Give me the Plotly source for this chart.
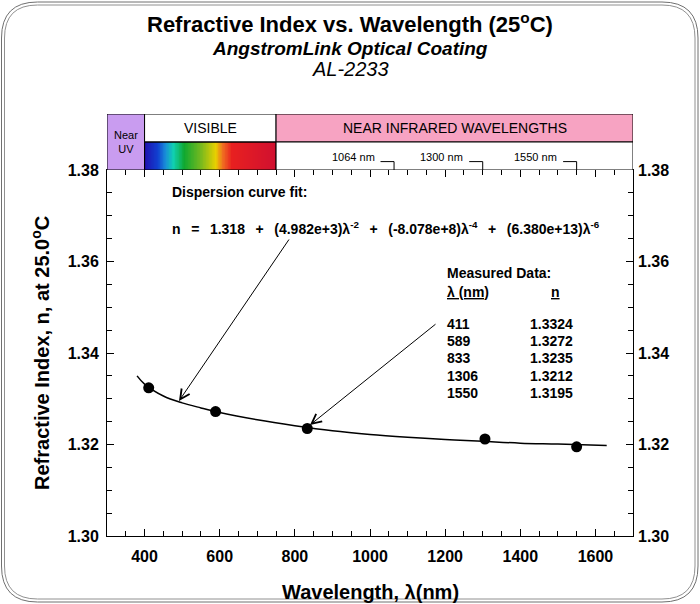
import plotly.graph_objects as go

# ---------------- data ----------------
measured_wavelength_nm = [411, 589, 833, 1306, 1550]
measured_index = [1.3324, 1.3272, 1.3235, 1.3212, 1.3195]

fit_wavelength_nm = [380, 400, 450, 500, 550, 600, 700, 800, 900, 1000,
                     1100, 1200, 1300, 1400, 1500, 1630]
fit_index = [1.3350, 1.3332, 1.3306, 1.3291, 1.3280, 1.3270, 1.3254, 1.3241,
             1.3230, 1.3222, 1.3216, 1.3211, 1.3207, 1.3203, 1.3201, 1.3198]

fit_constant = "1.318"
fit_coefficients = ["(4.982e+3)", "(-8.078e+8)", "(6.380e+13)"]
fit_powers = ["-2", "-4", "-6"]

x_tick_values = [400, 600, 800, 1000, 1200, 1400, 1600]
y_tick_values = [1.30, 1.32, 1.34, 1.36, 1.38]
y_tick_labels = ["1.30", "1.32", "1.34", "1.36", "1.38"]

band_labels = ["Near<br>UV", "VISIBLE", "NEAR INFRARED WAVELENGTHS"]
band_edges_nm = [300, 400, 750, 1700]
marked_wavelengths_nm = [1064, 1300, 1550]
marked_labels = ["1064 nm", "1300 nm", "1550 nm"]

# ---------------- styling / geometry ----------------
W, H = 700, 604
ML, MR, MT, MB = 107, 67, 114, 68
PW = W - ML - MR
PH = H - MT - MB
MAIN_TOP = 366 / PH          # fraction of plot height used by the main axes
X_RANGE = [300, 1700]
Y_RANGE = [1.30, 1.38]

FONT = "Liberation Sans, Arial, sans-serif"

spectrum_colorscale = [
    [0.00, "#2010b0"], [0.10, "#1040d0"], [0.16, "#1890d8"], [0.22, "#10d0b0"],
    [0.30, "#10a830"], [0.42, "#70b820"], [0.54, "#e8d000"], [0.59, "#f07020"],
    [0.66, "#e82020"], [1.00, "#d01030"],
]
spectrum_edges = list(range(band_edges_nm[1], band_edges_nm[2] + 1, 2))
spectrum_centers = [(a + b) / 2 for a, b in zip(spectrum_edges[:-1], spectrum_edges[1:])]


def px_x(px):
    """pixel column -> paper x"""
    return (px - ML) / PW


def px_y(py):
    """pixel row -> paper y"""
    return (H - MB - py) / PH


def dx(px):
    """pixel column -> data x"""
    return X_RANGE[0] + (px - ML) / PW * (X_RANGE[1] - X_RANGE[0])


def dy(py):
    """pixel row -> data y (main axis)"""
    return Y_RANGE[0] + (H - MB - py) / (MAIN_TOP * PH) * (Y_RANGE[1] - Y_RANGE[0])


fig = go.Figure()

# spectrum gradient in the band strip
fig.add_trace(go.Heatmap(
    x=spectrum_edges, y=[0, 1], z=[spectrum_centers],
    zmin=band_edges_nm[1], zmax=band_edges_nm[2],
    colorscale=spectrum_colorscale, showscale=False, hoverinfo="skip",
    xaxis="x", yaxis="y2",
))

# fitted dispersion curve
fig.add_trace(go.Scatter(
    x=fit_wavelength_nm, y=fit_index, mode="lines",
    line=dict(color="black", width=1.5, shape="spline"),
    hoverinfo="skip", showlegend=False,
))

# measured points
fig.add_trace(go.Scatter(
    x=measured_wavelength_nm, y=measured_index, mode="markers",
    marker=dict(color="black", size=11), showlegend=False,
))

# invisible trace for the right-hand tick labels
fig.add_trace(go.Scatter(x=[X_RANGE[0]], y=[Y_RANGE[0]], yaxis="y3",
                         mode="markers", marker=dict(opacity=0),
                         hoverinfo="skip", showlegend=False))

shapes = []
# band boxes
shapes.append(dict(type="rect", xref="x", yref="y2", x0=band_edges_nm[0], x1=band_edges_nm[1],
                   y0=0, y1=2, fillcolor="#c99cf0", line=dict(color="black", width=1)))
shapes.append(dict(type="rect", xref="x", yref="y2", x0=band_edges_nm[1], x1=band_edges_nm[2],
                   y0=1, y1=2, fillcolor="white", line=dict(color="black", width=1)))
shapes.append(dict(type="rect", xref="x", yref="y2", x0=band_edges_nm[1], x1=band_edges_nm[2],
                   y0=0, y1=1, fillcolor="rgba(0,0,0,0)", line=dict(color="black", width=1)))
shapes.append(dict(type="rect", xref="x", yref="y2", x0=band_edges_nm[2], x1=band_edges_nm[3],
                   y0=1, y1=2, fillcolor="#f7a3c2", line=dict(color="black", width=1)))
shapes.append(dict(type="rect", xref="x", yref="y2", x0=band_edges_nm[2], x1=band_edges_nm[3],
                   y0=0, y1=1, fillcolor="white", line=dict(color="black", width=1)))

annotations = []
# band labels
annotations.append(dict(x=(band_edges_nm[0] + band_edges_nm[1]) / 2, y=1.0, xref="x", yref="y2",
                        text=band_labels[0], showarrow=False, xanchor="center", yanchor="middle",
                        font=dict(family=FONT, size=11, color="black")))
annotations.append(dict(x=(band_edges_nm[1] + band_edges_nm[2]) / 2, y=1.5, xref="x", yref="y2",
                        text=band_labels[1], showarrow=False, xanchor="center", yanchor="middle",
                        font=dict(family=FONT, size=14, color="black")))
annotations.append(dict(x=(band_edges_nm[2] + band_edges_nm[3]) / 2, y=1.5, xref="x", yref="y2",
                        text=band_labels[2], showarrow=False, xanchor="center", yanchor="middle",
                        font=dict(family=FONT, size=14, color="black")))

# wavelength markers in the NIR strip
for wl, lab in zip(marked_wavelengths_nm, marked_labels):
    shapes.append(dict(type="path", xref="x", yref="y2",
                       path=f"M {wl - 36},0.3 L {wl},0.3 L {wl},0",
                       line=dict(color="black", width=1)))
    annotations.append(dict(x=wl - 46, y=0.45, xref="x", yref="y2", text=lab,
                            showarrow=False, xanchor="right", yanchor="middle",
                            font=dict(family=FONT, size=11, color="black")))


# frame with rounded corners (double line)
def rounded(l, t, r, b, rad):
    L, R, T, B = px_x(l), px_x(r), px_y(t), px_y(b)
    rx, ry = rad / PW, rad / PH
    return (f"M {L + rx},{T} L {R - rx},{T} Q {R},{T} {R},{T - ry} "
            f"L {R},{B + ry} Q {R},{B} {R - rx},{B} L {L + rx},{B} "
            f"Q {L},{B} {L},{B + ry} L {L},{T - ry} Q {L},{T} {L + rx},{T} Z")


shapes.append(dict(type="path", xref="paper", yref="paper", path=rounded(1.5, 2, 698, 602, 36),
                   line=dict(color="#707070", width=1)))
shapes.append(dict(type="path", xref="paper", yref="paper", path=rounded(4.5, 5, 695, 599, 33),
                   line=dict(color="#909090", width=1)))

# titles
annotations.append(dict(x=px_x(W / 2), xref="paper", y=px_y(23), yref="paper",
                        xanchor="center", yanchor="middle",
                        text="<b>Refractive Index vs. Wavelength (25<sup>o</sup>C)</b>",
                        showarrow=False, font=dict(family=FONT, size=22, color="black")))
annotations.append(dict(x=px_x(W / 2), xref="paper", y=px_y(48), yref="paper",
                        xanchor="center", yanchor="middle",
                        text="<b><i>AngstromLink Optical Coating</i></b>", showarrow=False,
                        font=dict(family=FONT, size=19, color="black")))
annotations.append(dict(x=px_x(W / 2), xref="paper", y=px_y(69), yref="paper",
                        xanchor="center", yanchor="middle",
                        text="<i>AL-2233</i>", showarrow=False,
                        font=dict(family=FONT, size=20, color="black")))

# axis titles
annotations.append(dict(x=0.5, xref="paper", y=px_y(592), yref="paper",
                        xanchor="center", yanchor="middle",
                        text="<b>Wavelength, λ(nm)</b>", showarrow=False,
                        font=dict(family=FONT, size=20, color="black")))
annotations.append(dict(x=px_x(40), xref="paper", y=px_y(353), yref="paper",
                        xanchor="center", yanchor="middle",
                        text="<b>Refractive Index, n, at 25.0<sup>o</sup>C</b>", showarrow=False,
                        textangle=-90, font=dict(family=FONT, size=20, color="black")))

# fit description
sp = "\u00a0\u00a0\u2009"
formula = f"n{sp}={sp}{fit_constant}"
for c, p in zip(fit_coefficients, fit_powers):
    formula += f"{sp}+{sp}{c}λ<sup>{p}</sup>"
annotations.append(dict(x=dx(170), y=dy(192), xref="x", yref="y", xanchor="left", yanchor="middle",
                        text="<b>Dispersion curve fit:</b>", showarrow=False,
                        font=dict(family=FONT, size=14, color="black")))
annotations.append(dict(x=dx(170), y=dy(228), xref="x", yref="y", xanchor="left", yanchor="middle",
                        text=f"<b>{formula}</b>", showarrow=False,
                        font=dict(family=FONT, size=14, color="black")))

# measured data table
annotations.append(dict(x=dx(445), y=dy(273), xref="x", yref="y", xanchor="left", yanchor="middle",
                        text="<b>Measured Data:</b>", showarrow=False,
                        font=dict(family=FONT, size=14, color="black")))
annotations.append(dict(x=dx(445), y=dy(292), xref="x", yref="y", xanchor="left", yanchor="middle",
                        text="<b><u>λ (nm)</u></b>", showarrow=False,
                        font=dict(family=FONT, size=14, color="black")))
annotations.append(dict(x=dx(549), y=dy(292), xref="x", yref="y", xanchor="left", yanchor="middle",
                        text="<b><u>n</u></b>", showarrow=False,
                        font=dict(family=FONT, size=14, color="black")))
for i, (wl, n) in enumerate(zip(measured_wavelength_nm, measured_index)):
    row_py = 324 + 17.2 * i
    annotations.append(dict(x=dx(445), y=dy(row_py), xref="x", yref="y", xanchor="left",
                            yanchor="middle", text=f"<b>{wl}</b>", showarrow=False,
                            font=dict(family=FONT, size=14, color="black")))
    annotations.append(dict(x=dx(528), y=dy(row_py), xref="x", yref="y", xanchor="left",
                            yanchor="middle", text=f"<b>{n:.4f}</b>", showarrow=False,
                            font=dict(family=FONT, size=14, color="black")))

# arrows
for (hx, hy, tx, ty) in [(179, 401, 290, 238), (310, 425, 437, 323)]:
    annotations.append(dict(x=dx(hx), y=dy(hy), ax=dx(tx), ay=dy(ty),
                            xref="x", yref="y", axref="x", ayref="y",
                            text="", showarrow=True, arrowhead=5, arrowsize=1.9,
                            arrowwidth=1, arrowcolor="black"))

axis_font = dict(family=FONT, size=16, color="black", weight="bold")

fig.update_layout(
    width=W, height=H,
    margin=dict(l=ML, r=MR, t=MT, b=MB, autoexpand=False),
    paper_bgcolor="white", plot_bgcolor="white",
    showlegend=False,
    xaxis=dict(range=X_RANGE, tickvals=x_tick_values, ticks="inside", ticklen=7,
               tickcolor="black", showline=True, linecolor="black", linewidth=1,
               mirror="ticks", showgrid=False, zeroline=False, tickfont=axis_font,
               ticklabelstandoff=6,
               minor=dict(dtick=50, ticks="inside", ticklen=5, tickcolor="black"),
               anchor="y"),
    yaxis=dict(range=Y_RANGE, tickvals=y_tick_values, ticktext=y_tick_labels,
               ticks="inside", ticklen=7, tickcolor="black", showline=True,
               linecolor="black", linewidth=1, mirror="ticks", showgrid=False,
               zeroline=False, tickfont=axis_font, ticklabelstandoff=4,
               minor=dict(dtick=0.005, ticks="inside", ticklen=5, tickcolor="black"),
               domain=[0, MAIN_TOP], anchor="x"),
    yaxis3=dict(range=Y_RANGE, tickvals=y_tick_values, ticktext=y_tick_labels,
                overlaying="y", side="right", ticks="", showline=False,
                showgrid=False, zeroline=False, tickfont=axis_font,
                ticklabelstandoff=4, anchor="x"),
    yaxis2=dict(range=[0, 2], domain=[MAIN_TOP, 1], visible=False, anchor="x",
                fixedrange=True),
    shapes=shapes,
    annotations=annotations,
)

fig.write_html("out.html",
               config={"displayModeBar": False},
               post_script="document.body.style.margin='0';document.body.style.overflow='hidden';")
